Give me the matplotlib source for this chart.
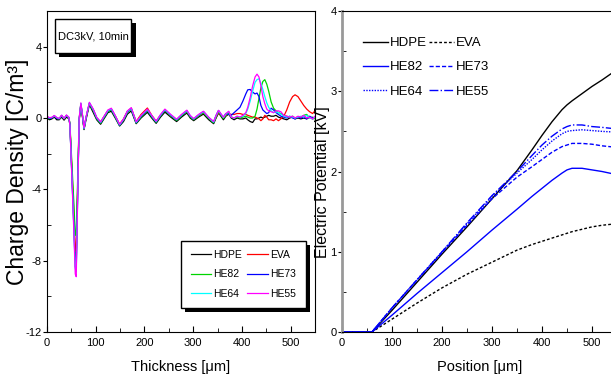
import matplotlib
matplotlib.use('Agg')
import matplotlib.pyplot as plt
from matplotlib import patheffects
from matplotlib.patches import Rectangle
from matplotlib.ticker import MultipleLocator

plt.rcParams['font.family'] = ['Liberation Sans', 'DejaVu Sans']
plt.rcParams['axes.unicode_minus'] = False

# ---- left panel: space charge density vs thickness ----
thickness = [0, 5, 10, 15, 20, 25, 30, 35, 40, 45, 47, 51, 55, 58, 60, 63, 66,
             69.5, 73, 76, 80, 87, 95, 102, 110, 118, 125, 132, 140, 149, 157,
             165, 173, 183, 193, 206, 215, 224, 233, 242, 254, 266, 276, 287,
             294, 301, 311, 321, 332, 342, 347, 352, 357, 362, 367, 373, 378,
             384, 390, 396, 402, 408, 412, 417, 422, 427, 431, 435, 439, 443,
             447, 451, 455, 460, 465, 470, 475, 480, 486, 492, 498, 504, 509,
             515, 521, 527, 533, 539, 545, 550]

rho_hdpe = [0.0, -0.1, -0.05, 0.05, -0.1, -0.1, 0.05, -0.12, 0.05, -0.05,
            -0.37, -3.0, -5.7, -7.95, -8.1, -4.0, -0.15,
            0.7, 0.0, -0.65, -0.1, 0.75, 0.3, -0.1, -0.35, 0.0, 0.3, 0.38, 0.0,
            -0.45, -0.2, 0.22, 0.4, -0.32, 0.0, 0.32, 0.0, -0.3, 0.05, 0.33,
            0.05, -0.2, 0.05, 0.28, 0.0, -0.15, 0.05, 0.22, -0.1, -0.32, 0.0,
            0.28, 0.1, -0.1, 0.1, 0.22, 0.0,
            -0.1, 0.0, -0.05, -0.05, 0.0, -0.1, -0.2, -0.25, -0.05, -0.05, 0.0,
            0.05, 0.0, 0.05, 0.1, 0.15, 0.1, 0.1, 0.15, 0.05, 0.0, -0.05, -0.1,
            0.0, 0.05, -0.05, 0.0, -0.05, 0.0, -0.05, 0.05, -0.05, 0.0]
rho_eva = [0.08, -0.02, 0.0, 0.12, 0.0, -0.05, 0.14, -0.05, 0.15, 0.0,
           -0.34, -2.8, -5.3, -7.4, -7.5, -3.7, -0.1,
           0.78, 0.08, -0.6, 0.0, 0.82, 0.45, 0.0, -0.22, 0.12, 0.42, 0.5, 0.12,
           -0.35, -0.05, 0.38, 0.55, -0.2, 0.2, 0.56, 0.15, -0.18, 0.15, 0.42,
           0.12, -0.1, 0.15, 0.36, 0.08, -0.08, 0.12, 0.3, 0.0, -0.22, 0.05,
           0.3, 0.15, 0.05, 0.15, 0.25, 0.2,
           0.2, 0.25, 0.25, 0.2, 0.2, 0.15, 0.1, 0.05, 0.05, 0.0, -0.05, -0.15,
           -0.05, 0.15, 0.05, -0.1, -0.1, -0.15, -0.05, -0.15, -0.05, 0.1, 0.45,
           0.9, 1.2, 1.3, 1.2, 0.95, 0.7, 0.5, 0.35, 0.25, 0.4]
rho_he82 = [0.05, -0.03, 0.02, 0.1, 0.0, -0.06, 0.12, -0.05, 0.13, 0.0,
            -0.3, -2.5, -4.7, -6.5, -6.6, -3.3, -0.05,
            0.78, 0.05, -0.62, -0.02, 0.8, 0.4, -0.05, -0.3, 0.05, 0.36, 0.46,
            0.05, -0.42, -0.12, 0.32, 0.5, -0.28, 0.05, 0.42, 0.06, -0.25, 0.12,
            0.42, 0.12, -0.14, 0.12, 0.36, 0.06, -0.1, 0.12, 0.3, -0.03, -0.27,
            0.06, 0.36, 0.16, -0.03, 0.16, 0.3, 0.06,
            0.0, 0.05, 0.0, 0.05, 0.1, 0.05, 0.0, 0.0, 0.1, 0.5, 1.1, 1.7, 2.05,
            2.15, 1.9, 1.5, 0.9, 0.55, 0.4, 0.3, 0.25, 0.15, 0.1, 0.05, 0.1, 0.0,
            0.05, 0.05, 0.15, 0.2, 0.0, 0.05, -0.05]
rho_he73 = [0.06, -0.02, 0.0, 0.11, -0.02, -0.05, 0.13, -0.04, 0.14, 0.02,
            -0.39, -3.2, -6.0, -8.35, -8.5, -4.2, -0.1,
            0.8, 0.1, -0.6, 0.0, 0.84, 0.45, 0.0, -0.26, 0.1, 0.4, 0.5, 0.1,
            -0.4, -0.1, 0.35, 0.52, -0.26, 0.1, 0.45, 0.1, -0.22, 0.15, 0.45,
            0.15, -0.1, 0.16, 0.4, 0.1, -0.06, 0.16, 0.36, 0.02, -0.22, 0.15,
            0.42, 0.2, 0.05, 0.25, 0.2, 0.15,
            0.3, 0.45, 0.6, 0.95, 1.35, 1.58, 1.6, 1.45, 1.35, 1.4, 1.2, 0.7,
            0.45, 0.35, 0.25, 0.3, 0.55, 0.45, 0.3, 0.2, 0.1, 0.05, 0.0, 0.1,
            0.0, -0.05, 0.05, 0.0, 0.05, -0.05, 0.1, 0.0, 0.05]
rho_he64 = [0.08, 0.0, 0.03, 0.12, 0.02, -0.03, 0.15, -0.03, 0.15, 0.03,
            -0.39, -3.2, -6.1, -8.45, -8.6, -4.3, -0.05,
            0.82, 0.12, -0.58, 0.02, 0.86, 0.47, 0.02, -0.24, 0.12, 0.42, 0.52,
            0.12, -0.38, -0.08, 0.37, 0.55, -0.24, 0.12, 0.47, 0.12, -0.2, 0.17,
            0.47, 0.17, -0.09, 0.17, 0.41, 0.12, -0.05, 0.17, 0.36, 0.02, -0.23,
            0.12, 0.41, 0.22, 0.02, 0.22, 0.36, 0.05,
            0.0, 0.1, 0.05, 0.1, 0.25, 0.5, 0.95, 1.5, 2.0, 2.15, 2.2, 1.95, 1.6,
            1.2, 0.85, 0.6, 0.4, 0.3, 0.35, 0.3, 0.2, 0.1, 0.05, 0.1, 0.05, 0.0,
            0.05, 0.1, 0.05, 0.15, 0.0, -0.05, 0.05]
rho_he55 = [0.1, 0.02, 0.04, 0.14, 0.03, -0.02, 0.16, -0.02, 0.17, 0.04,
            -0.4, -3.3, -6.3, -8.75, -8.9, -4.4, 0.0,
            0.85, 0.14, -0.56, 0.04, 0.88, 0.5, 0.04, -0.22, 0.14, 0.45, 0.55,
            0.14, -0.36, -0.06, 0.4, 0.58, -0.22, 0.14, 0.5, 0.14, -0.18, 0.2,
            0.5, 0.2, -0.07, 0.2, 0.44, 0.14, -0.03, 0.2, 0.38, 0.04, -0.2,
            0.14, 0.43, 0.24, 0.04, 0.24, 0.38, 0.05,
            0.0, 0.1, 0.05, 0.15, 0.3, 0.6, 1.15, 1.8, 2.3, 2.46, 2.3, 1.8, 1.2,
            0.8, 0.5, 0.4, 0.35, 0.3, 0.4, 0.4, 0.35, 0.15, 0.1, 0.05, 0.1, 0.0,
            0.1, 0.05, 0.15, 0.0, 0.05, -0.05, 0.1]

# ---- right panel: electric potential vs position ----
position = [0, 50, 60, 100, 150, 200, 250, 300, 350, 380, 400, 420, 440, 450,
            460, 480, 500, 520, 550]
pot_hdpe = [0, 0, 0.0, 0.27, 0.62, 0.97, 1.31, 1.66, 2.01, 2.27, 2.45, 2.62,
            2.77, 2.83, 2.88, 2.97, 3.06, 3.14, 3.27]
pot_eva = [0, 0, 0.0, 0.16, 0.36, 0.55, 0.72, 0.87, 1.02, 1.09, 1.13, 1.17,
           1.21, 1.23, 1.25, 1.28, 1.31, 1.33, 1.35]
pot_he82 = [0, 0, 0.0, 0.21, 0.48, 0.74, 1.0, 1.27, 1.53, 1.69, 1.79, 1.89,
            1.98, 2.02, 2.04, 2.04, 2.02, 2.0, 1.96]
pot_he73 = [0, 0, 0.0, 0.3, 0.65, 0.99, 1.33, 1.66, 1.93, 2.06, 2.15, 2.24,
            2.31, 2.33, 2.35, 2.35, 2.34, 2.32, 2.30]
pot_he64 = [0, 0, 0.0, 0.3, 0.65, 1.0, 1.35, 1.69, 1.98, 2.15, 2.27, 2.38,
            2.47, 2.50, 2.51, 2.52, 2.51, 2.50, 2.49]
pot_he55 = [0, 0, 0.0, 0.3, 0.65, 1.0, 1.36, 1.7, 2.0, 2.2, 2.33, 2.44, 2.53,
            2.56, 2.58, 2.58, 2.56, 2.55, 2.53]

names = ['HDPE', 'EVA', 'HE82', 'HE73', 'HE64', 'HE55']
rho = [rho_hdpe, rho_eva, rho_he82, rho_he73, rho_he64, rho_he55]
pot = [pot_hdpe, pot_eva, pot_he82, pot_he73, pot_he64, pot_he55]
rho_colors = ['black', 'red', '#00d400', '#0000ff', '#00ffff', '#ff00ff']
pot_colors = ['black', 'black', '#0000ff', '#0000ff', '#0000ff', '#0000ff']
pot_styles = ['-', (0, (2, 1.5)), '-', (0, (3, 1.5)), (0, (1, 1)), '-.']

shadow = [patheffects.SimplePatchShadow(offset=(3, -3), shadow_rgbFace='black',
                                        alpha=1.0),
          patheffects.Normal()]

fig = plt.figure(figsize=(6.11, 3.8), dpi=100)
ax1 = fig.add_axes([47 / 611, 48 / 380, 268 / 611, 321 / 380])
ax2 = fig.add_axes([342 / 611, 48 / 380, 275 / 611, 321 / 380])

lines = []
for n, r, c in zip(names, rho, rho_colors):
    ln, = ax1.plot(thickness, r, color=c, lw=0.9, label=n)
    lines.append(ln)
ax1.set_xlim(0, 550)
ax1.set_ylim(-12, 6)
ax1.xaxis.set_major_locator(MultipleLocator(100))
ax1.xaxis.set_minor_locator(MultipleLocator(50))
ax1.yaxis.set_minor_locator(MultipleLocator(2))
ax1.set_yticks([-12, -8, -4, 0, 4])
ax1.set_yticklabels(['-12', '-8', '-4', '0', '4'])
ax1.set_xlabel('Thickness [\u03bcm]', fontsize=10.5)
ax1.xaxis.set_label_coords(0.5, -0.088)
ax1.set_ylabel('Charge Density [C/m\u00b3]', fontsize=16.5)
ax1.yaxis.set_label_coords(-0.068, 0.5)

order = [0, 2, 4, 1, 3, 5]
leg1 = ax1.legend([lines[i] for i in order], [names[i] for i in order],
                  ncol=2, loc='lower right', bbox_to_anchor=(0.965, 0.074),
                  borderaxespad=0, fancybox=False, edgecolor='black',
                  framealpha=1, fontsize=7.5, handlelength=2.0,
                  handletextpad=0.2, columnspacing=0.5, labelspacing=0.9,
                  borderpad=0.9)
leg1.get_frame().set_linewidth(1.0)
leg1.get_frame().set_path_effects(shadow)

box = Rectangle((0.03, 0.869), 0.285, 0.106, transform=ax1.transAxes,
                fc='white', ec='black', lw=1.0, zorder=4)
box.set_path_effects(shadow)
ax1.add_patch(box)
ax1.text(0.1725, 0.922, 'DC3kV, 10min', transform=ax1.transAxes,
         ha='center', va='center', fontsize=8, zorder=5)

plines = []
for n, p, c, s in zip(names, pot, pot_colors, pot_styles):
    ln, = ax2.plot(position, p, color=c, ls=s, lw=1.0, label=n)
    plines.append(ln)
ax2.set_xlim(0, 550)
ax2.set_ylim(0, 4)
ax2.xaxis.set_major_locator(MultipleLocator(100))
ax2.xaxis.set_minor_locator(MultipleLocator(50))
ax2.yaxis.set_major_locator(MultipleLocator(1))
ax2.yaxis.set_minor_locator(MultipleLocator(0.5))
ax2.set_xlabel('Position [\u03bcm]', fontsize=10.5)
ax2.xaxis.set_label_coords(0.5, -0.088)
ax2.set_ylabel('Electric Potential [kV]', fontsize=11.5)
ax2.yaxis.set_label_coords(-0.045, 0.467)
ax2.spines['left'].set_color('#999999')
ax2.spines['left'].set_linewidth(2)

leg2 = ax2.legend([plines[i] for i in order], [names[i] for i in order],
                  ncol=2, loc='upper left', bbox_to_anchor=(0.058, 0.935),
                  borderaxespad=0, frameon=False, fontsize=9.5,
                  handlelength=1.9, handletextpad=0.15, columnspacing=0.15,
                  labelspacing=0.9)

for ax in (ax1, ax2):
    ax.tick_params(axis='x', which='major', direction='in', length=4,
                   labelsize=8, pad=4)
    ax.tick_params(axis='x', which='minor', direction='in', length=3)
    ax.tick_params(axis='y', which='major', direction='out', length=3,
                   labelsize=8, pad=1)
    ax.tick_params(axis='y', which='minor', direction='in', length=3)

fig.savefig('out.png', dpi=100)
